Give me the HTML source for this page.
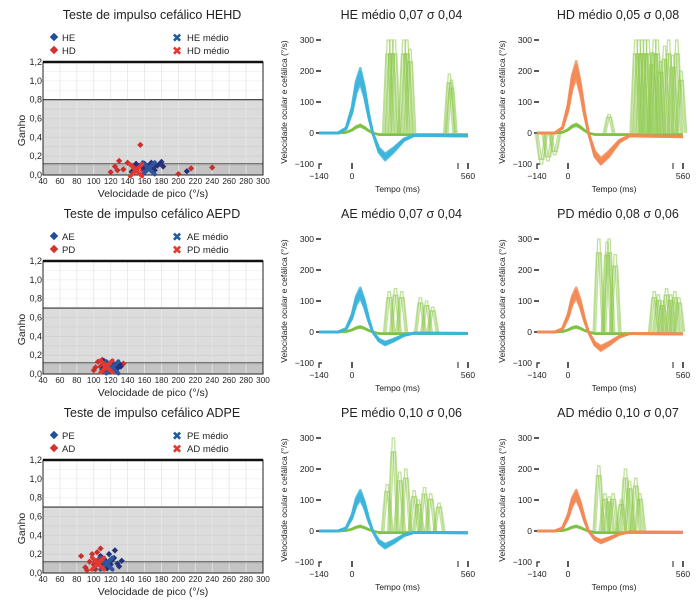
<!DOCTYPE html>
<html><head><meta charset="utf-8">
<style>
body{margin:0;background:#fff;}
svg{display:block;font-family:"Liberation Sans",sans-serif;}
</style></head>
<body>
<svg id="fig" width="700" height="609" viewBox="0 0 700 609"></svg>
<script>
// ---------- DATA ----------
const scatterTitles = ["Teste de impulso cefálico HEHD","Teste de impulso cefálico AEPD","Teste de impulso cefálico ADPE"];
const legendA = ["HE","AE","PE"];
const legendB = ["HD","PD","AD"];
const thresholds = [0.8, 0.7, 0.7];
const xTicks = [40,60,80,100,120,140,160,180,200,220,240,260,280,300];
const yTicks = [0.0,0.2,0.4,0.6,0.8,1.0,1.2];
const yTickLabels = ["0,0","0,2","0,4","0,6","0,8","1,0","1,2"];
const blueV = [
 [150,155,158,160,163,165,168,170,172,175,178,180,182,210,145,150],
 [110,115,118,120,122,125,128,130,112,126,118,132],
 [100,105,110,112,115,118,120,122,125,128,130,133,108,116,124]];
const blueG = [
 [0.05,0.10,0.08,0.12,0.06,0.10,0.13,0.08,0.05,0.10,0.12,0.14,0.09,0.04,0.03,0.12],
 [0.05,0.08,0.10,0.07,0.12,0.09,0.06,0.11,0.14,0.04,0.03,0.08],
 [0.05,0.10,0.08,0.15,0.12,0.20,0.09,0.14,0.24,0.10,0.07,0.13,0.18,0.05,0.16]];
const redV = [
 [120,125,130,135,140,145,150,155,158,160,165,215,240,128,200,148],
 [100,105,108,110,115,118,120,125,128,135,112,102],
 [85,90,95,98,100,102,105,108,110,112,115,118,92,104]];
const redG = [
 [0.03,0.09,0.15,0.06,0.13,0.04,0.08,0.32,0.05,0.11,0.07,0.07,0.08,0.05,0.01,0.10],
 [0.04,0.13,0.08,0.15,0.06,0.10,0.12,0.05,0.09,0.11,0.03,0.07],
 [0.18,0.06,0.12,0.20,0.09,0.04,0.14,0.26,0.08,0.15,0.05,0.10,0.03,0.22]];
const meanBlue = [[165,0.07],[122,0.07],[115,0.10]];
const meanRed = [[150,0.05],[115,0.08],[105,0.10]];

const waveTitles = [["HE médio 0,07 σ 0,04","HD médio 0,05 σ 0,08"],["AE médio 0,07 σ 0,04","PD médio 0,08 σ 0,06"],["PE médio 0,10 σ 0,06","AD médio 0,10 σ 0,07"]];
const headT = [-140,-60,-25,0,20,40,60,80,100,130,160,200,250,300,560];
const headShape = [0,0,8,40,80,100,72,32,0,-30,-42,-30,-12,-4,-5];
const headPeak = [[190,210],[130,130],[120,120]];
const troughScale = [[1.0,1.1],[0.7,1.0],[1.0,0.7]];
const traceScale = [0.84,0.9,0.95,1,1.04,1.1];
const sacT = [[[175,190,205,250,265,280,470,480],[330,345,360,375,390,410,420,435,450,470,490,510,530,550,-120,-90,-60,200]],
              [[180,210,240,330,360,390],[150,190,200,230,420,440,460,480,500,520,540]],
              [[170,200,230,260,300,320,350,380,420],[150,180,200,220,260,280,300,330,350]]];
const sacH = [[[300,300,300,300,300,270,190,170],[300,300,300,300,300,260,300,300,230,280,300,250,300,200,-100,-90,-70,60]],
              [[130,140,130,110,100,80],[300,290,300,250,130,120,100,140,120,130,110]],
              [[150,300,190,200,130,100,140,120,90],[210,120,110,120,100,200,160,170,120]]];
const sacW = 44;
const sacJit = [-6,0,6];
const tTicks = [-140,0,560];

// ---------- DRAW ----------
const NS="http://www.w3.org/2000/svg";
const svg=document.getElementById('fig');
function mk(tag,attrs,parent){const e=document.createElementNS(NS,tag);for(const k in attrs)e.setAttribute(k,attrs[k]);(parent||svg).appendChild(e);return e;}
function txt(s,attrs,parent){const e=mk('text',attrs,parent);e.textContent=s;return e;}
const rowOff=[0,199,398];

for(let r=0;r<3;r++){
  const o=rowOff[r];
  const g=mk('g',{});
  
  
  const X0=43,X1=263,Y0=62+o,Y1=175+o;
  const sx=v=>X0+(v-40)/260*(X1-X0);
  const sy=v=>Y1-v/1.2*(Y1-Y0);
  const t=txt(scatterTitles[r],{x:152,y:19+o,'text-anchor':'middle','font-size':12.5,fill:'#222'},g);
  
  const lg=mk('g',{},g);
  
  mk('rect',{x:51,y:34+o,width:6,height:6,fill:'#1f4e9a',transform:`rotate(45 54 ${37+o})`},lg);
  txt(legendA[r],{x:62,y:41+o,'font-size':9.5,fill:'#222'},lg);
  mk('rect',{x:51,y:47+o,width:6,height:6,fill:'#d0342f',transform:`rotate(45 54 ${50+o})`},lg);
  txt(legendB[r],{x:62,y:54+o,'font-size':9.5,fill:'#222'},lg);
  txt('✖',{x:172,y:42+o,'font-size':12,fill:'#1f5fa0'},lg);
  txt(legendA[r]+' médio',{x:187,y:41+o,'font-size':9.5,fill:'#222'},lg);
  txt('✖',{x:172,y:55+o,'font-size':12,fill:'#e23a30'},lg);
  txt(legendB[r]+' médio',{x:187,y:54+o,'font-size':9.5,fill:'#222'},lg);
  mk('rect',{x:X0,y:Y0,width:X1-X0,height:Y1-Y0,fill:'#fff'},g);
  mk('rect',{x:X0,y:sy(thresholds[r]),width:X1-X0,height:Y1-sy(thresholds[r]),fill:'#dcdcdc'},g);
  mk('rect',{x:X0,y:sy(0.12),width:X1-X0,height:Y1-sy(0.12),fill:'#c4c4c4'},g);
  xTicks.forEach(v=>mk('line',{x1:sx(v),x2:sx(v),y1:Y0,y2:Y1,stroke:'#e6e6e6','stroke-width':0.8},g));
  [0.1,0.2,0.3,0.4,0.5,0.6,0.7,0.8,0.9,1.0,1.1].forEach(v=>mk('line',{x1:X0,x2:X1,y1:sy(v),y2:sy(v),stroke:'rgba(0,0,0,0.05)','stroke-width':0.8},g));
  mk('line',{x1:X0,x2:X1,y1:sy(thresholds[r]),y2:sy(thresholds[r]),stroke:'#333','stroke-width':1.2},g);
  mk('line',{x1:X0,x2:X1,y1:sy(0.12),y2:sy(0.12),stroke:'#555','stroke-width':1},g);
  mk('rect',{x:X0,y:Y0,width:X1-X0,height:Y1-Y0,fill:'none',stroke:'#222','stroke-width':1},g);
  mk('line',{x1:X0,x2:X1,y1:Y0,y2:Y0,stroke:'#111','stroke-width':2.5},g);
  xTicks.forEach(v=>txt(v,{x:sx(v),y:Y1+9,'text-anchor':'middle','font-size':8.2,fill:'#222'},g));
  yTicks.forEach((v,i)=>txt(yTickLabels[i],{x:X0-1,y:sy(v)+3,'text-anchor':'end','font-size':9,fill:'#222'},g));
  txt('Velocidade de pico (°/s)',{x:153,y:Y1+22,'text-anchor':'middle','font-size':10.5,fill:'#222'},g);
  txt('Ganho',{x:0,y:0,'text-anchor':'middle','font-size':10.5,fill:'#222',transform:`translate(25 ${(Y0+Y1)/2+12}) rotate(-90)`},g);
  redV[r].forEach((v,i)=>{const d=mk('rect',{x:sx(v)-2.2,y:sy(redG[r][i])-2.2,width:4.4,height:4.4,fill:'#c8302c',transform:`rotate(45 ${sx(v)} ${sy(redG[r][i])})`},g);
    });
  blueV[r].forEach((v,i)=>{const d=mk('rect',{x:sx(v)-2.2,y:sy(blueG[r][i])-2.2,width:4.4,height:4.4,fill:'#23317a',transform:`rotate(45 ${sx(v)} ${sy(blueG[r][i])})`},g);
    });
  [[meanBlue,'#2f55a0'],[meanRed,'#e23a30']].forEach(([m,c])=>{
    const cx=sx(m[r][0]),cy=sy(m[r][1]);
    const mm=mk('path',{d:`M${cx-6} ${cy-6}L${cx+6} ${cy+6}M${cx+6} ${cy-6}L${cx-6} ${cy+6}`,stroke:c,'stroke-width':4,'stroke-linecap':'round'},g);
    
  });

  for(let c=0;c<2;c++){
    const w=mk('g',{});
    
    
    const tA = c===0?[319,352,468]:[537,568,683];
    const yZ=133+o, k=0.31;
    const px=t=> t<0 ? tA[0]+(t+140)/140*(tA[1]-tA[0]) : tA[1]+t/560*(tA[2]-tA[1]);
    const py=v=> yZ - Math.max(-100,Math.min(300,v))*k;
    const color = c===0?'#3cb4dc':'#f28a55';
    const cx = (tA[0]+tA[2])/2;
    txt(waveTitles[r][c],{x:cx+8,y:19+o,'text-anchor':'middle','font-size':12.5,fill:'#222'},w);
    [300,200,100,0,-100].forEach(v=>{
      txt(String(v).replace('-','−'),{x:tA[0]-5,y:py(v)+3,'text-anchor':'end','font-size':8.5,fill:'#222'},w);
      if(v!==-100) mk('line',{x1:tA[0]-3,x2:tA[0]+2,y1:py(v),y2:py(v),stroke:'#222','stroke-width':1.5},w);
    });
    mk('path',{d:`M${tA[0]} ${py(-100)+5}V${py(-100)}H${tA[0]+3}`,stroke:'#222',fill:'none','stroke-width':1.2},w);
    mk('line',{x1:tA[1],x2:tA[1],y1:py(-100)-1,y2:py(-100)+5,stroke:'#222','stroke-width':1.5},w);
    mk('line',{x1:tA[2],x2:tA[2],y1:py(-100)-1,y2:py(-100)+5,stroke:'#222','stroke-width':1.5},w);
    mk('line',{x1:tA[2]-10,x2:tA[2]-10,y1:py(-100)-1,y2:py(-100)+5,stroke:'#222','stroke-width':1},w);
    tTicks.forEach(t=>txt(String(t).replace('-','−'),{x:px(t),y:py(-100)+15,'text-anchor':'middle','font-size':8.5,fill:'#222'},w));
    txt('Tempo (ms)',{x:cx+4,y:py(-100)+28,'text-anchor':'middle','font-size':8.5,fill:'#222'},w);
    txt('Velocidade ocular e cefálica (°/s)',{x:0,y:0,'text-anchor':'middle','font-size':8.5,fill:'#222',transform:`translate(${tA[0]-32} ${py(100)}) rotate(-90)`},w);
    sacT[r][c].forEach((t,i)=>{
      const h=sacH[r][c][i];
      sacJit.forEach(j=>{
        const tt=t+j, hh=h*(1-Math.abs(j)/40);
        const d=`M${px(tt-sacW/2)} ${py(0)}L${px(tt-sacW/8)} ${py(hh)}L${px(tt+sacW/8)} ${py(hh)}L${px(tt+sacW/2)} ${py(0)}`;
        const s=mk('path',{d,stroke:'#8cc84b','stroke-width':1.3,fill:'none',opacity:0.55},w);
        
      });
    });
    const peak=headPeak[r][c], tr=troughScale[r][c];
    traceScale.forEach(s=>{
      const gain=0.13*s;
      const d=headT.map((t,i)=>(i?'L':'M')+px(t)+' '+py(Math.max(0,headShape[i])/100*peak*gain - (headShape[i]<0?5:0))).join('');
      mk('path',{d,stroke:'#7cc23f','stroke-width':2.4,fill:'none',opacity:0.6},w);
    });
    traceScale.forEach(s=>{
      const d=headT.map((t,i)=>{const v=headShape[i]/100*peak*s*(headShape[i]<0?tr:1);return (i?'L':'M')+px(t)+' '+py(v);}).join('');
      const hp=mk('path',{d,stroke:color,'stroke-width':2.6,fill:'none',opacity:0.8,'stroke-linejoin':'round'},w);
      
    });
  }
}
</script>
</body></html>
